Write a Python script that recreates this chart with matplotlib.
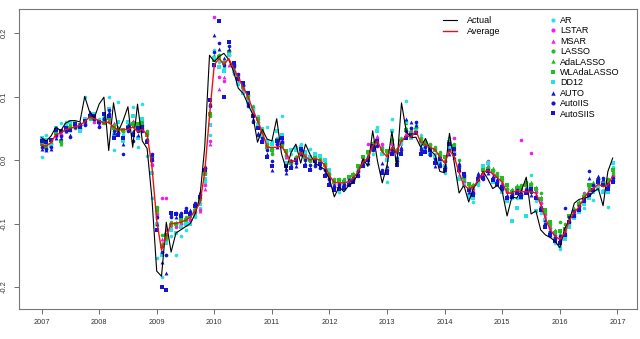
import numpy as np
import matplotlib
matplotlib.use("Agg")
import matplotlib.pyplot as plt
from matplotlib.lines import Line2D

plt.rcParams['font.family'] = ['Liberation Sans', 'DejaVu Sans']

years = 2007 + np.arange(120) / 12.0

actual = [
    0.035, 0.030, 0.038, 0.052, 0.046, 0.058, 0.062, 0.062, 0.060, 0.100, 0.076, 0.066,
    0.088, 0.099, 0.015, 0.090, 0.045, 0.062, 0.084, 0.020, 0.088, 0.030, 0.018, -0.060,
    -0.175, -0.183, -0.098, -0.145, -0.115, -0.110, -0.105, -0.100, -0.085, -0.058, 0.020, 0.165,
    0.155, 0.163, 0.168, 0.158, 0.140, 0.113, 0.105, 0.088, 0.072, 0.028, 0.048, 0.033,
    0.030, 0.065, 0.010, -0.015, 0.012, 0.025, -0.005, 0.025, 0.008, -0.005, -0.010, -0.015,
    -0.030, -0.058, -0.042, -0.050, -0.040, -0.035, -0.020, 0.002, -0.010, 0.046, -0.002, -0.036,
    -0.008, 0.045, -0.010, 0.090, 0.045, 0.035, 0.036, 0.020, 0.034, 0.015, 0.008, -0.018,
    -0.020, 0.042, -0.005, -0.052, -0.040, -0.066, -0.044, -0.033, -0.018, -0.030, -0.045, -0.040,
    -0.050, -0.088, -0.058, -0.060, -0.048, -0.027, -0.085, -0.080, -0.110, -0.118, -0.122, -0.128,
    -0.138, -0.108, -0.095, -0.068, -0.062, -0.060, -0.058, -0.050, -0.045, -0.072, -0.018, 0.003]

average = [
    0.024, 0.022, 0.028, 0.040, 0.042, 0.048, 0.050, 0.052, 0.055, 0.060, 0.068, 0.065,
    0.062, 0.058, 0.060, 0.052, 0.047, 0.048, 0.048, 0.052, 0.045, 0.048, 0.040, -0.010,
    -0.095, -0.142, -0.120, -0.100, -0.100, -0.098, -0.095, -0.090, -0.080, -0.068, -0.020, 0.070,
    0.150, 0.160, 0.150, 0.160, 0.145, 0.130, 0.115, 0.100, 0.080, 0.062, 0.044, 0.020,
    0.020, 0.020, 0.022, 0.010, -0.003, 0.000, 0.012, 0.005, 0.000, 0.002, 0.000, -0.008,
    -0.025, -0.035, -0.036, -0.036, -0.034, -0.028, -0.018, -0.003, 0.003, 0.022, 0.030, 0.013,
    0.005, 0.020, 0.012, 0.030, 0.038, 0.036, 0.046, 0.028, 0.024, 0.020, 0.016, 0.005,
    -0.005, 0.015, 0.005, -0.020, -0.040, -0.045, -0.042, -0.032, -0.020, -0.016, -0.022, -0.028,
    -0.035, -0.052, -0.052, -0.048, -0.050, -0.050, -0.050, -0.052, -0.070, -0.092, -0.110, -0.120,
    -0.125, -0.115, -0.095, -0.082, -0.074, -0.060, -0.050, -0.045, -0.038, -0.042, -0.040, -0.025]

ar = [
    0.005, 0.040, 0.030, 0.050, 0.058, 0.060, 0.060, 0.058, 0.048, 0.100, 0.065, 0.068,
    0.065, 0.070, 0.100, 0.015, 0.092, 0.040, 0.055, 0.083, 0.020, 0.088, 0.006, -0.060,
    -0.155, -0.184, -0.150, -0.120, -0.150, -0.120, -0.110, -0.095, -0.090, -0.075, -0.035, 0.040,
    0.173, 0.155, 0.145, 0.170, 0.135, 0.128, 0.110, 0.098, 0.085, 0.070, 0.050, 0.052,
    0.030, 0.035, 0.070, 0.005, 0.010, 0.020, 0.025, 0.010, 0.018, 0.008, 0.005, -0.005,
    -0.020, -0.040, -0.050, -0.045, -0.040, -0.032, -0.025, -0.010, -0.005, 0.010, 0.052, 0.020,
    -0.035, 0.065, 0.005, 0.035, 0.093, 0.040, 0.055, 0.040, 0.020, 0.015, 0.010, 0.000,
    -0.020, 0.035, 0.020, -0.025, -0.030, -0.058, -0.066, -0.040, -0.015, -0.005, -0.030, -0.035,
    -0.045, -0.060, -0.060, -0.060, -0.055, -0.045, -0.024, -0.065, -0.083, -0.100, -0.120, -0.130,
    -0.140, -0.120, -0.100, -0.090, -0.078, -0.075, -0.055, -0.063, -0.040, -0.048, -0.074, -0.011]

lstar = [
    0.025, 0.022, 0.032, 0.038, 0.040, 0.048, 0.052, 0.052, 0.055, 0.062, 0.072, 0.060,
    0.058, 0.060, 0.065, 0.055, 0.050, 0.046, 0.052, 0.060, 0.048, 0.050, 0.042, -0.008,
    -0.085, -0.060, -0.060, -0.100, -0.105, -0.100, -0.098, -0.095, -0.082, -0.078, -0.040, 0.030,
    0.225, 0.130, 0.124, 0.165, 0.140, 0.122, 0.112, 0.095, 0.078, 0.060, 0.040, 0.022,
    0.018, 0.025, 0.030, 0.008, -0.005, 0.005, 0.015, 0.008, 0.002, 0.004, 0.000, -0.010,
    -0.028, -0.038, -0.040, -0.035, -0.030, -0.026, -0.015, 0.000, 0.026, 0.020, 0.035, 0.025,
    0.010, 0.025, 0.015, 0.030, 0.040, 0.045, 0.050, 0.030, 0.028, 0.024, 0.018, 0.008,
    -0.002, 0.020, 0.035, -0.018, -0.035, -0.045, -0.045, -0.035, -0.022, -0.002, -0.018, -0.025,
    -0.038, -0.050, -0.052, -0.050, 0.031, -0.040, 0.011, -0.050, -0.068, -0.085, -0.107, -0.118,
    -0.125, -0.110, -0.098, -0.085, -0.072, -0.052, -0.045, -0.040, -0.035, -0.040, -0.040, -0.025]

msar = [
    0.022, 0.020, 0.030, 0.040, 0.042, 0.050, 0.050, 0.055, 0.058, 0.060, 0.070, 0.062,
    0.060, 0.062, 0.068, 0.058, 0.048, 0.048, 0.050, 0.062, 0.050, 0.052, 0.044, -0.005,
    -0.090, -0.125, -0.110, -0.105, -0.102, -0.098, -0.100, -0.092, -0.085, -0.080, -0.045, 0.025,
    0.150, 0.112, 0.130, 0.150, 0.138, 0.125, 0.108, 0.092, 0.075, 0.058, 0.042, 0.020,
    0.015, 0.022, 0.028, 0.005, -0.008, 0.002, 0.012, 0.005, 0.000, 0.000, -0.002, -0.012,
    -0.030, -0.040, -0.038, -0.038, -0.032, -0.028, -0.018, -0.002, 0.002, 0.018, 0.038, 0.022,
    0.008, 0.028, 0.012, 0.028, 0.042, 0.040, 0.048, 0.032, 0.026, 0.022, 0.020, 0.010,
    0.000, 0.018, 0.015, -0.015, -0.032, -0.048, -0.048, -0.030, -0.018, -0.008, -0.020, -0.030,
    -0.035, -0.048, -0.055, -0.045, -0.045, -0.042, -0.045, -0.048, -0.065, -0.088, -0.118, -0.115,
    -0.128, -0.112, -0.095, -0.080, -0.070, -0.055, -0.048, -0.042, -0.032, -0.038, -0.038, -0.022]

lasso = [
    0.028, 0.025, 0.025, 0.048, 0.027, 0.052, 0.055, 0.050, 0.050, 0.058, 0.068, 0.064,
    0.062, 0.058, 0.060, 0.055, 0.050, 0.045, 0.048, 0.058, 0.055, 0.055, 0.045, 0.000,
    -0.074, -0.118, -0.125, -0.098, -0.100, -0.095, -0.090, -0.085, -0.075, -0.060, -0.020, 0.070,
    0.160, 0.165, 0.155, 0.172, 0.150, 0.132, 0.118, 0.102, 0.082, 0.065, 0.045, 0.025,
    0.010, 0.030, 0.025, 0.012, -0.002, 0.004, 0.010, 0.002, -0.002, 0.002, 0.002, -0.006,
    -0.022, -0.030, -0.030, -0.030, -0.028, -0.022, -0.012, 0.005, 0.010, 0.025, 0.030, 0.015,
    0.012, 0.047, 0.018, 0.032, 0.058, 0.050, 0.052, 0.034, 0.030, 0.025, 0.020, 0.012,
    0.005, 0.028, 0.025, 0.000, -0.028, -0.040, -0.040, -0.028, -0.015, -0.012, -0.015, -0.020,
    -0.030, -0.045, -0.048, -0.042, -0.040, -0.035, -0.038, -0.045, -0.052, -0.080, -0.100, -0.112,
    -0.098, -0.100, -0.090, -0.078, -0.068, -0.055, -0.042, -0.038, -0.030, -0.035, -0.030, -0.020]

adalasso = [
    0.030, 0.022, 0.028, 0.045, 0.025, 0.050, 0.048, 0.052, 0.052, 0.060, 0.066, 0.066,
    0.063, 0.060, 0.070, 0.052, 0.052, 0.046, 0.050, 0.055, 0.058, 0.056, 0.042, 0.002,
    -0.080, -0.130, -0.120, -0.100, -0.098, -0.096, -0.092, -0.087, -0.078, -0.065, -0.018, 0.075,
    0.165, 0.160, 0.150, 0.168, 0.148, 0.130, 0.116, 0.104, 0.085, 0.062, 0.048, 0.022,
    0.012, 0.028, 0.022, 0.010, 0.000, 0.006, 0.014, 0.006, 0.002, 0.005, 0.000, -0.004,
    -0.020, -0.032, -0.034, -0.032, -0.030, -0.020, -0.015, 0.002, 0.008, 0.028, 0.032, 0.012,
    0.010, 0.035, 0.016, 0.035, 0.050, 0.045, 0.050, 0.030, 0.024, 0.022, 0.018, 0.010,
    0.002, 0.025, 0.020, -0.010, -0.030, -0.042, -0.038, -0.030, -0.012, -0.010, -0.012, -0.022,
    -0.032, -0.042, -0.045, -0.040, -0.042, -0.038, -0.035, -0.042, -0.058, -0.082, -0.102, -0.110,
    -0.115, -0.105, -0.092, -0.075, -0.065, -0.052, -0.045, -0.035, -0.028, -0.032, -0.032, -0.020]

wladalasso = [
    0.025, 0.020, 0.022, 0.042, 0.030, 0.048, 0.050, 0.054, 0.055, 0.062, 0.070, 0.065,
    0.060, 0.058, 0.066, 0.050, 0.048, 0.048, 0.052, 0.056, 0.056, 0.058, 0.040, 0.004,
    -0.078, -0.135, -0.118, -0.102, -0.100, -0.094, -0.094, -0.088, -0.080, -0.062, -0.022, 0.072,
    0.158, 0.162, 0.152, 0.170, 0.145, 0.133, 0.115, 0.100, 0.080, 0.064, 0.046, 0.020,
    0.015, 0.032, 0.024, 0.014, -0.004, 0.002, 0.012, 0.004, 0.000, 0.003, -0.003, -0.008,
    -0.024, -0.034, -0.032, -0.034, -0.026, -0.024, -0.010, 0.004, 0.012, 0.026, 0.028, 0.018,
    0.014, 0.030, 0.014, 0.030, 0.048, 0.042, 0.048, 0.028, 0.026, 0.020, 0.016, 0.008,
    0.004, 0.028, 0.022, -0.015, -0.026, -0.038, -0.042, -0.032, -0.016, -0.014, -0.018, -0.025,
    -0.028, -0.040, -0.050, -0.044, -0.044, -0.040, -0.040, -0.045, -0.062, -0.078, -0.098, -0.115,
    -0.112, -0.108, -0.088, -0.080, -0.070, -0.058, -0.040, -0.040, -0.032, -0.036, -0.034, -0.015]

dd12 = [
    0.035, 0.032, 0.022, 0.050, 0.045, 0.055, 0.060, 0.058, 0.045, 0.065, 0.070, 0.072,
    0.062, 0.065, 0.080, 0.040, 0.060, 0.030, 0.060, 0.070, 0.035, 0.065, 0.030, -0.020,
    -0.100, -0.150, -0.130, -0.110, -0.115, -0.105, -0.100, -0.100, -0.088, -0.070, -0.030, 0.055,
    0.160, 0.147, 0.140, 0.165, 0.140, 0.120, 0.105, 0.092, 0.078, 0.055, 0.038, 0.030,
    0.025, 0.045, 0.040, -0.005, 0.015, 0.015, 0.020, 0.012, 0.005, 0.010, 0.006, 0.000,
    -0.015, -0.045, -0.045, -0.040, -0.038, -0.035, -0.020, -0.008, 0.000, 0.015, 0.045, 0.010,
    0.000, 0.045, 0.000, 0.025, 0.060, 0.035, 0.045, 0.025, 0.018, 0.010, 0.005, -0.005,
    -0.010, 0.020, 0.010, -0.030, -0.040, -0.055, -0.060, -0.038, -0.010, -0.005, -0.035, -0.040,
    -0.050, -0.065, -0.096, -0.075, -0.060, -0.088, -0.045, -0.080, -0.075, -0.095, -0.115, -0.125,
    -0.135, -0.125, -0.105, -0.092, -0.082, -0.070, -0.060, -0.050, -0.045, -0.050, -0.050, -0.005]

auto = [
    0.018, 0.015, 0.018, 0.035, 0.035, 0.045, 0.040, 0.055, 0.058, 0.058, 0.075, 0.068,
    0.055, 0.068, 0.075, 0.042, 0.045, 0.025, 0.055, 0.045, 0.040, 0.050, 0.035, 0.008,
    -0.100, -0.160, -0.178, -0.085, -0.090, -0.085, -0.080, -0.078, -0.070, -0.050, -0.010, 0.090,
    0.197, 0.175, 0.160, 0.175, 0.155, 0.130, 0.120, 0.090, 0.065, 0.043, 0.030, 0.010,
    -0.015, 0.020, 0.030, -0.020, -0.008, -0.010, 0.010, -0.005, -0.012, -0.005, -0.010, -0.020,
    -0.035, -0.040, -0.040, -0.036, -0.035, -0.030, -0.022, -0.005, -0.005, 0.020, 0.025, -0.005,
    -0.010, 0.020, 0.005, 0.020, 0.065, 0.060, 0.055, 0.020, 0.015, 0.012, -0.010, -0.005,
    -0.008, 0.010, 0.005, -0.005, -0.020, -0.050, -0.050, -0.020, -0.025, -0.020, -0.025, -0.030,
    -0.040, -0.055, -0.050, -0.050, -0.050, -0.045, -0.055, -0.055, -0.072, -0.095, -0.110, -0.120,
    -0.125, -0.115, -0.095, -0.085, -0.075, -0.062, -0.028, -0.045, -0.025, -0.030, -0.040, -0.030]

autoiis = [
    0.020, 0.018, 0.020, 0.040, 0.038, 0.045, 0.037, 0.052, 0.055, 0.055, 0.072, 0.065,
    0.052, 0.065, 0.078, 0.045, 0.042, 0.010, 0.045, 0.030, 0.045, 0.045, 0.030, 0.010,
    -0.090, -0.145, -0.150, -0.090, -0.083, -0.083, -0.075, -0.082, -0.068, -0.055, -0.012, 0.085,
    0.170, 0.184, 0.150, 0.180, 0.148, 0.135, 0.118, 0.085, 0.060, 0.040, 0.035, 0.015,
    -0.002, 0.025, 0.028, -0.015, -0.002, -0.005, 0.015, 0.000, -0.008, -0.010, -0.012, -0.015,
    -0.030, -0.042, -0.038, -0.040, -0.032, -0.028, -0.018, -0.002, 0.004, 0.015, 0.022, -0.015,
    -0.015, 0.015, -0.002, 0.015, 0.045, 0.050, 0.060, 0.015, 0.020, 0.008, 0.002, -0.010,
    -0.012, 0.015, 0.010, -0.010, -0.025, -0.045, -0.052, -0.025, -0.030, -0.015, -0.028, -0.035,
    -0.045, -0.058, -0.055, -0.048, -0.055, -0.048, -0.050, -0.058, -0.075, -0.100, -0.115, -0.125,
    -0.120, -0.075, -0.090, -0.080, -0.072, -0.060, -0.018, -0.040, -0.030, -0.028, -0.038, -0.028]

autosiis = [
    0.030, 0.028, 0.032, 0.048, 0.045, 0.050, 0.048, 0.056, 0.052, 0.062, 0.070, 0.070,
    0.060, 0.072, 0.070, 0.035, 0.040, 0.035, 0.050, 0.040, 0.050, 0.052, 0.028, 0.000,
    -0.110, -0.200, -0.205, -0.083, -0.085, -0.088, -0.082, -0.085, -0.072, -0.058, -0.015, 0.095,
    0.150, 0.219, 0.100, 0.186, 0.152, 0.128, 0.122, 0.105, 0.070, 0.050, 0.028, 0.005,
    -0.010, 0.030, 0.035, -0.010, -0.012, 0.000, 0.018, -0.010, -0.015, -0.002, -0.006, -0.025,
    -0.040, -0.048, -0.045, -0.044, -0.040, -0.034, -0.025, -0.010, 0.000, 0.022, 0.030, -0.020,
    -0.020, 0.010, -0.008, 0.010, 0.035, 0.040, 0.042, 0.010, 0.012, 0.015, -0.005, 0.002,
    -0.015, 0.025, 0.018, -0.015, -0.022, -0.048, -0.055, -0.030, -0.028, -0.018, -0.032, -0.038,
    -0.042, -0.060, -0.058, -0.052, -0.058, -0.052, -0.045, -0.060, -0.078, -0.105, -0.118, -0.128,
    -0.130, -0.118, -0.098, -0.088, -0.078, -0.065, -0.055, -0.048, -0.035, -0.040, -0.045, -0.035]

xtick_labels = ['2007', '2008', '2009', '2010', '2011', '2012', '2013', '2014', '2015', '2016', '2017']
ytick_vals = [-0.2, -0.1, 0.0, 0.1, 0.2]
ytick_labels = ['-0.2', '-0.1', '0.0', '0.1', '0.2']

CYAN = '#22E2E2'
MAG = '#F01EF0'
GREEN = '#1FBF1F'
BLUE = '#1414D8'

series = [
    ('AR', ar, CYAN, 'o'),
    ('LSTAR', lstar, MAG, 'o'),
    ('MSAR', msar, MAG, '^'),
    ('LASSO', lasso, GREEN, 'o'),
    ('AdaLASSO', adalasso, GREEN, '^'),
    ('WLAdaLASSO', wladalasso, GREEN, 's'),
    ('DD12', dd12, CYAN, 's'),
    ('AUTO', auto, BLUE, '^'),
    ('AutoIIS', autoiis, BLUE, 'o'),
    ('AutoSIIS', autosiis, BLUE, 's'),
]
msize = {'o': 2.6, '^': 2.8, 's': 2.4}

W, H = 640, 339
fig = plt.figure(figsize=(W / 100, H / 100), dpi=100)
ax = fig.add_axes([19 / W, 1 - 309 / H, (637 - 19) / W, 300 / H])

for name, vals, col, mk in series:
    ax.plot(years, vals, ls='none', marker=mk, color=col, markersize=msize[mk],
            markeredgewidth=0, zorder=2)
ax.plot(years, actual, color='black', lw=0.8, zorder=3)
ax.plot(years, average, color='#F01010', lw=1.0, zorder=4)

ax.set_xlim(2006.609, 2017.339)
ax.set_ylim(-0.2346, 0.2378)
ax.set_xticks(list(range(2007, 2018)))
ax.set_xticklabels(xtick_labels)
ax.set_yticks(ytick_vals)
ax.set_yticklabels(ytick_labels, rotation=90, va='center')
ax.tick_params(axis='both', direction='out', length=3.5, width=0.6, color='#555555',
               labelsize=5.3, labelcolor='#333333')
ax.tick_params(axis='x', pad=3.5)
ax.tick_params(axis='y', pad=4.5)
for s in ax.spines.values():
    s.set_color('#777777')
    s.set_linewidth(0.8)

# legend: lines column
h1 = [Line2D([], [], color='black', lw=0.8), Line2D([], [], color='#F01010', lw=1.0)]
leg1 = fig.legend(h1, ['Actual', 'Average'], loc='upper left',
                  bbox_to_anchor=(443 / W, 1 - 16 / H), bbox_transform=fig.transFigure,
                  frameon=False, fontsize=6.5, handlelength=1.55, handletextpad=1.1,
                  borderpad=0, borderaxespad=0, labelspacing=0.25)
h2 = [Line2D([], [], ls='none', marker=mk, color=col, markersize=msize[mk] + 0.4,
             markeredgewidth=0) for name, vals, col, mk in series]
leg2 = fig.legend(h2, [s[0] for s in series], loc='upper left',
                  bbox_to_anchor=(549 / W, 1 - 16 / H), bbox_transform=fig.transFigure,
                  frameon=False, fontsize=6.5, handlelength=0.9, handletextpad=0.35,
                  borderpad=0, borderaxespad=0, labelspacing=0.155, numpoints=1)

fig.savefig('out.png', dpi=100)
